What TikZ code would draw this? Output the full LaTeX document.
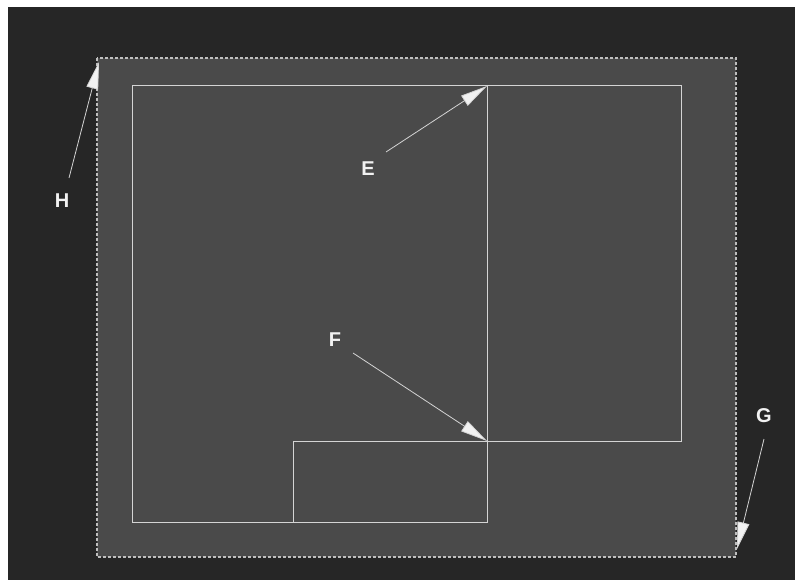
\documentclass[tikz,border=0pt]{standalone}
\usepackage{fontspec}
\setmainfont{Liberation Sans}
\usetikzlibrary{arrows.meta}
\definecolor{bgdark}{HTML}{262626}
\definecolor{panel}{HTML}{4A4A4A}
\definecolor{edge}{HTML}{D4D4D4}
\definecolor{tipfill}{HTML}{F2F2F2}
\begin{document}
\begin{tikzpicture}[x=1pt,y=-1pt,
  outline/.style={draw=edge,line width=1pt},
  border/.style={draw=edge!90!black,line width=1.1pt,dash pattern=on 3pt off 2pt},
  pointer/.style={draw=edge,line width=0.8pt,-{Triangle[length=27pt,width=12pt,fill=tipfill]}},
  lbl/.style={text=tipfill,font=\bfseries\fontsize{20}{20}\selectfont,inner sep=0pt}]
\useasboundingbox (0,0) rectangle (795,580);
\fill[white] (0,0) rectangle (795,580);
\fill[bgdark] (8,7) rectangle (795,580);
\filldraw[fill=panel,border] (97,58) rectangle (736,557);
% outlines
\draw[outline] (132,86) rectangle (487,522);
\draw[outline] (487,86) rectangle (681,441);
\draw[outline] (293,441) rectangle (487,522);
% labels
\node[lbl] (E) at (368,169) {E};
\node[lbl] (F) at (335,340) {F};
\node[lbl] (G) at (764,416) {G};
\node[lbl] (H) at (62,201) {H};
% arrow ends
\coordinate (Et) at (386,152);
\coordinate (Eh) at (487,86);
\coordinate (Ft) at (353,353);
\coordinate (Fh) at (487,441);
\coordinate (Gt) at (764,439);
\coordinate (Gh) at (737,549);
\coordinate (Ht) at (69,178);
\coordinate (Hh) at (99,62);
\draw[pointer] (Et) -- (Eh);
\draw[pointer] (Ft) -- (Fh);
\draw[pointer] (Gt) -- (Gh);
\draw[pointer] (Ht) -- (Hh);
\end{tikzpicture}
\end{document}
